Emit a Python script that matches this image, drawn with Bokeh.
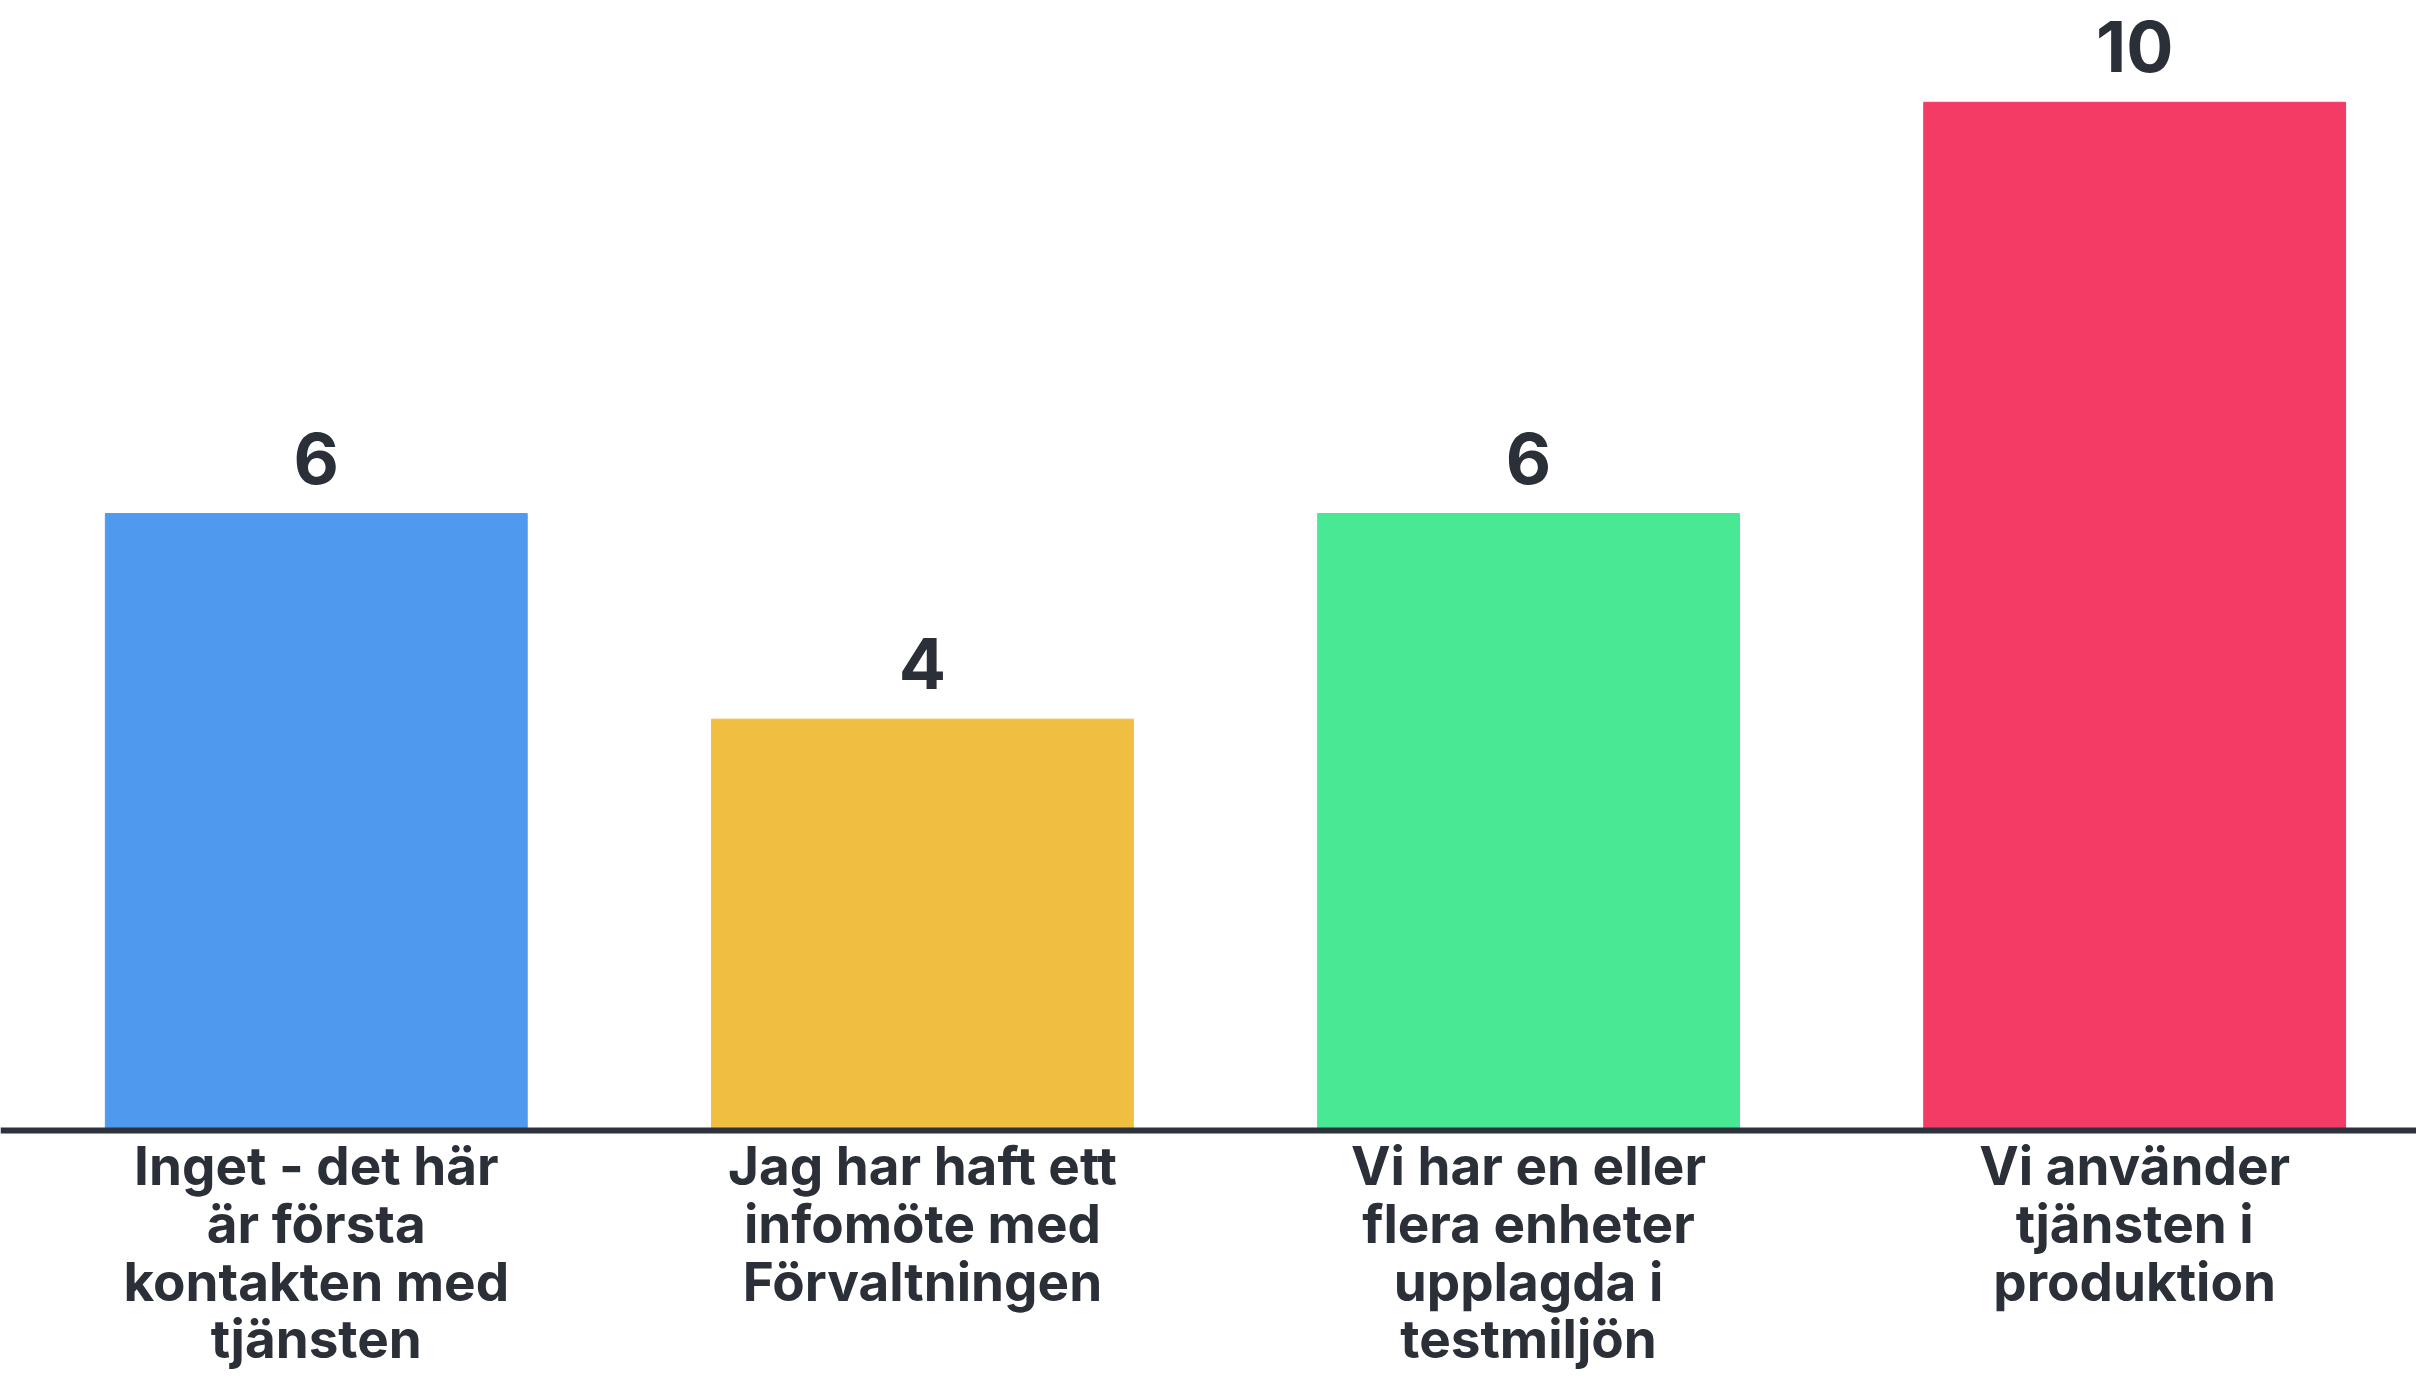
from bokeh.plotting import figure
from bokeh.models import Range1d, ColumnDataSource, Span
from bokeh.core.properties import value
from bokeh.embed import file_html
from bokeh.resources import INLINE

categories = [
    "Inget - det här\när första\nkontakten med\ntjänsten",
    "Jag har haft ett\ninfomöte med\nFörvaltningen",
    "Vi har en eller\nflera enheter\nupplagda i\ntestmiljön",
    "Vi använder\ntjänsten i\nproduktion",
]
counts = [6, 4, 6, 10]
colors = ["#4f9aef", "#f0be41", "#48e894", "#f43b66"]

xs = list(range(len(categories)))
src = ColumnDataSource(dict(x=xs, top=counts, base=[0] * len(xs), color=colors,
                            label=[str(c) for c in counts], cat=categories))

FONT = "Inter"
TXT = "#2b2f38"

p = figure(width=2416, height=1370, output_backend="svg", toolbar_location=None,
           x_range=Range1d(-0.521, 3.465), y_range=Range1d(-2.335, 10.99),
           min_border=0)
p.outline_line_color = None
p.grid.visible = False
p.axis.visible = False
p.background_fill_color = "white"

p.vbar(x="x", top="top", bottom="base", width=0.696, color="color", source=src)
p.add_layout(Span(location=0, dimension="width", line_color="#2d333d", line_width=6))

p.text(x="x", y="top", text="label", source=src, text_align="center",
       text_baseline="bottom", y_offset=-30, text_font=value(FONT),
       text_font_style="bold", text_font_size="70px", text_color=TXT)

p.text(x="x", y="base", text="cat", source=src, text_align="center",
       text_baseline="top", y_offset=4, text_font=value(FONT),
       text_font_style="bold", text_font_size="53px", text_color=TXT,
       text_line_height=0.9)

open("out.html", "w").write(file_html(p, INLINE))
